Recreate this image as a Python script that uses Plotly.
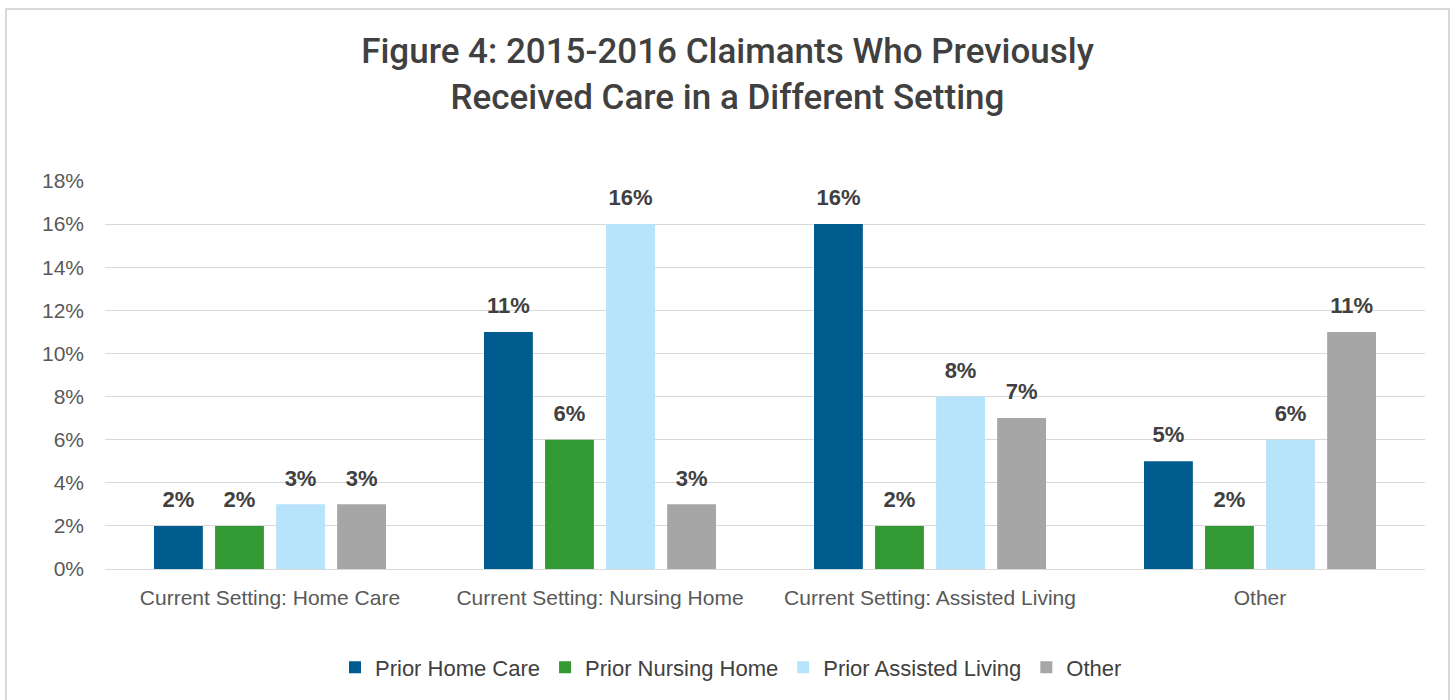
import plotly.graph_objects as go

categories = ["Current Setting: Home Care", "Current Setting: Nursing Home",
              "Current Setting: Assisted Living", "Other"]
series_names = ["Prior Home Care", "Prior Nursing Home", "Prior Assisted Living", "Other"]
prior_home_care = [2, 11, 16, 5]
prior_nursing_home = [2, 6, 2, 2]
prior_assisted_living = [3, 16, 8, 6]
other = [3, 3, 7, 11]
tick_vals = [0, 2, 4, 6, 8, 10, 12, 14, 16, 18]
tick_text = [f"{v}%" for v in tick_vals]

colors = ["#005b8f", "#339933", "#b7e3fb", "#a6a6a6"]
all_series = [prior_home_care, prior_nursing_home, prior_assisted_living, other]

title_font = "Roboto, Liberation Sans, sans-serif"
sans = "Liberation Sans, Arial, sans-serif"
LABEL_PAD = 0.5  # gap (axis units) between bar top and its value label

fig = go.Figure()
for i, (name, vals, col) in enumerate(zip(series_names, all_series, colors)):
    fig.add_trace(go.Bar(
        x=categories, y=vals, name=name, offsetgroup=str(i),
        marker=dict(color=col, line=dict(width=0)),
        hoverinfo="x+y+name",
    ))
    # transparent spacer carrying the value label above the bar
    fig.add_trace(go.Bar(
        x=categories, y=[LABEL_PAD] * len(vals), base=vals,
        offsetgroup=str(i), showlegend=False, hoverinfo="skip",
        marker=dict(color="rgba(0,0,0,0)", line=dict(width=0)),
        text=[f"{v}%" for v in vals], textposition="outside",
        textfont=dict(family=sans, size=22, color="#404040", weight="bold"),
        cliponaxis=False,
    ))

L, R, T, B = 105, 30, 181, 129
W, H = 1455, 700
pw, ph = W - L - R, H - T - B

def px_x(px):
    return (px - L) / pw

def px_y(py):
    return (H - B - py) / ph

fig.update_layout(
    width=W, height=H,
    margin=dict(l=L, r=R, t=T, b=B),
    paper_bgcolor="white", plot_bgcolor="white",
    barmode="group", bargap=0.26, bargroupgap=0.2,
    title=dict(
        text="Figure 4: 2015-2016 Claimants Who Previously<br>Received Care in a Different Setting",
        x=0.5, xanchor="center", y=1 - 63 / H, yanchor="middle",
        font=dict(family=title_font, size=35, color="#404040", weight=500),
    ),
    xaxis=dict(
        tickfont=dict(family=sans, size=21, color="#595959"),
        showline=True, linecolor="#d9d9d9", linewidth=1, ticks="",
        showgrid=False, ticklabelstandoff=10,
    ),
    yaxis=dict(
        range=[0, 18], tickvals=tick_vals, ticktext=tick_text,
        tickfont=dict(family=sans, size=21, color="#595959"),
        showgrid=True, gridcolor="#d9d9d9", gridwidth=1,
        zeroline=False, showline=False, ticks="", ticklen=0,
        ticklabelstandoff=20,
    ),
    showlegend=True,
    legend=dict(
        orientation="h", x=px_x(731), xanchor="center",
        y=px_y(670), yanchor="middle",
        font=dict(family=sans, size=22, color="#404040"),
        itemwidth=30, traceorder="normal",
    ),
    shapes=[dict(
        type="rect", xref="paper", yref="paper",
        x0=px_x(6), x1=px_x(1449), y0=px_y(720), y1=px_y(8),
        line=dict(color="#d9d9d9", width=2), fillcolor="rgba(0,0,0,0)",
        layer="below",
    )],
)

fig.write_html(
    "out.html",
    config={"displayModeBar": False},
    post_script="document.body.style.margin='0';document.body.style.overflow='hidden';",
)
